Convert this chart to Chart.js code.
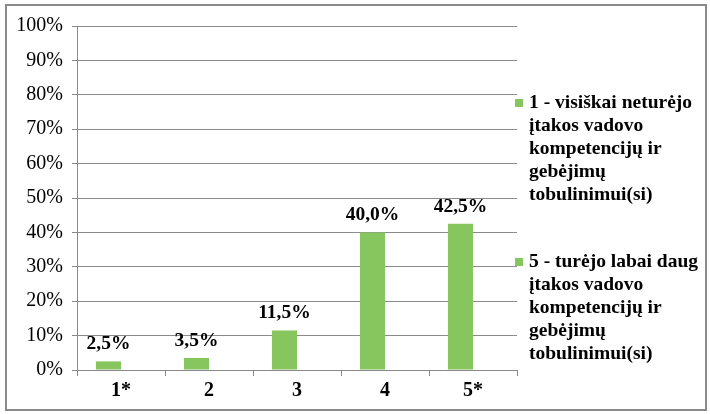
<!DOCTYPE html>
<html>
<head>
<meta charset="utf-8">
<script src="https://cdn.jsdelivr.net/npm/chart.js@4"></script>
<style>
  body { margin: 0; background: #fff; }
  #wrap { position: relative; width: 710px; height: 414px; }
  #frame { position: absolute; left: 5px; top: 4px; width: 698px; height: 403px; border: 2px solid #8a8a8a; }
  canvas { position: absolute; left: 0; top: 0; }
</style>
</head>
<body>
<div id="wrap">
  <div id="frame"></div>
  <canvas id="myChart" width="710" height="414"></canvas>
</div>
<script>
const categories = ["1*", "2", "3", "4", "5*"];
const values = [2.5, 3.5, 11.5, 40.0, 42.5];
const valueLabels = ["2,5%", "3,5%", "11,5%", "40,0%", "42,5%"];
const emptySeries = [null, null, null, null, null];
const legendLines1 = ["1 - visiškai neturėjo", "įtakos vadovo", "kompetencijų ir", "gebėjimų", "tobulinimui(si)"];
const legendLines2 = ["5 - turėjo labai daug", "įtakos vadovo", "kompetencijų ir", "gebėjimų", "tobulinimui(si)"];

const green = "#87c55f";
const serif = "'Liberation Serif', 'Times New Roman', serif";

// numbers on top of the bars
const barLabels = {
  id: "barLabels",
  afterDatasetsDraw(chart) {
    const ctx = chart.ctx;
    const meta = chart.getDatasetMeta(0);
    ctx.save();
    ctx.font = "bold 19.5px " + serif;
    ctx.fillStyle = "#000";
    ctx.textAlign = "center";
    ctx.textBaseline = "alphabetic";
    meta.data.forEach(function(bar, i) {
      ctx.fillText(valueLabels[i], bar.x, bar.y - 12);
    });
    ctx.restore();
  }
};

// wrapped legend on the right
const sideLegend = {
  id: "sideLegend",
  afterDraw(chart) {
    const ctx = chart.ctx;
    ctx.save();
    ctx.font = "bold 19.5px " + serif;
    ctx.textBaseline = "middle";
    const groups = [[legendLines1, 103], [legendLines2, 262]];
    groups.forEach(function(g) {
      ctx.fillStyle = green;
      ctx.fillRect(515, g[1] - 4, 8, 8);
      ctx.fillStyle = "#000";
      g[0].forEach(function(line, j) {
        ctx.fillText(line, 529, g[1] + j * 23);
      });
    });
    ctx.restore();
  }
};

new Chart("myChart", {
  type: "bar",
  data: {
    labels: categories,
    datasets: [{
      label: legendLines1.join(" "),
      data: values,
      backgroundColor: green,
      categoryPercentage: 0.57,
      barPercentage: 1.0
    }, {
      label: legendLines2.join(" "),
      data: emptySeries,
      backgroundColor: green,
      categoryPercentage: 0.57,
      barPercentage: 1.0
    }]
  },
  options: {
    responsive: false,
    animation: false,
    layout: { padding: { top: 26, right: 193, left: 0, bottom: 0 } },
    plugins: {
      legend: { display: false },
      tooltip: { enabled: false }
    },
    scales: {
      x: {
        afterFit(scale) { scale.height = 44; },
        grid: { drawOnChartArea: false, drawTicks: true, tickLength: 6, color: "#8a8a8a", offset: true },
        border: { color: "#8a8a8a" },
        ticks: { color: "#000", font: { family: serif, size: 20, weight: "bold" }, padding: 3 }
      },
      y: {
        min: 0,
        max: 100,
        afterFit(scale) { scale.width = 77; },
        grid: { color: "#8a8a8a", tickLength: 5 },
        border: { color: "#8a8a8a" },
        ticks: {
          stepSize: 10,
          color: "#000",
          padding: 9,
          font: { family: serif, size: 20 },
          callback: function(v) { return v + "%"; }
        }
      }
    }
  },
  plugins: [barLabels, sideLegend]
});
</script>
</body>
</html>
